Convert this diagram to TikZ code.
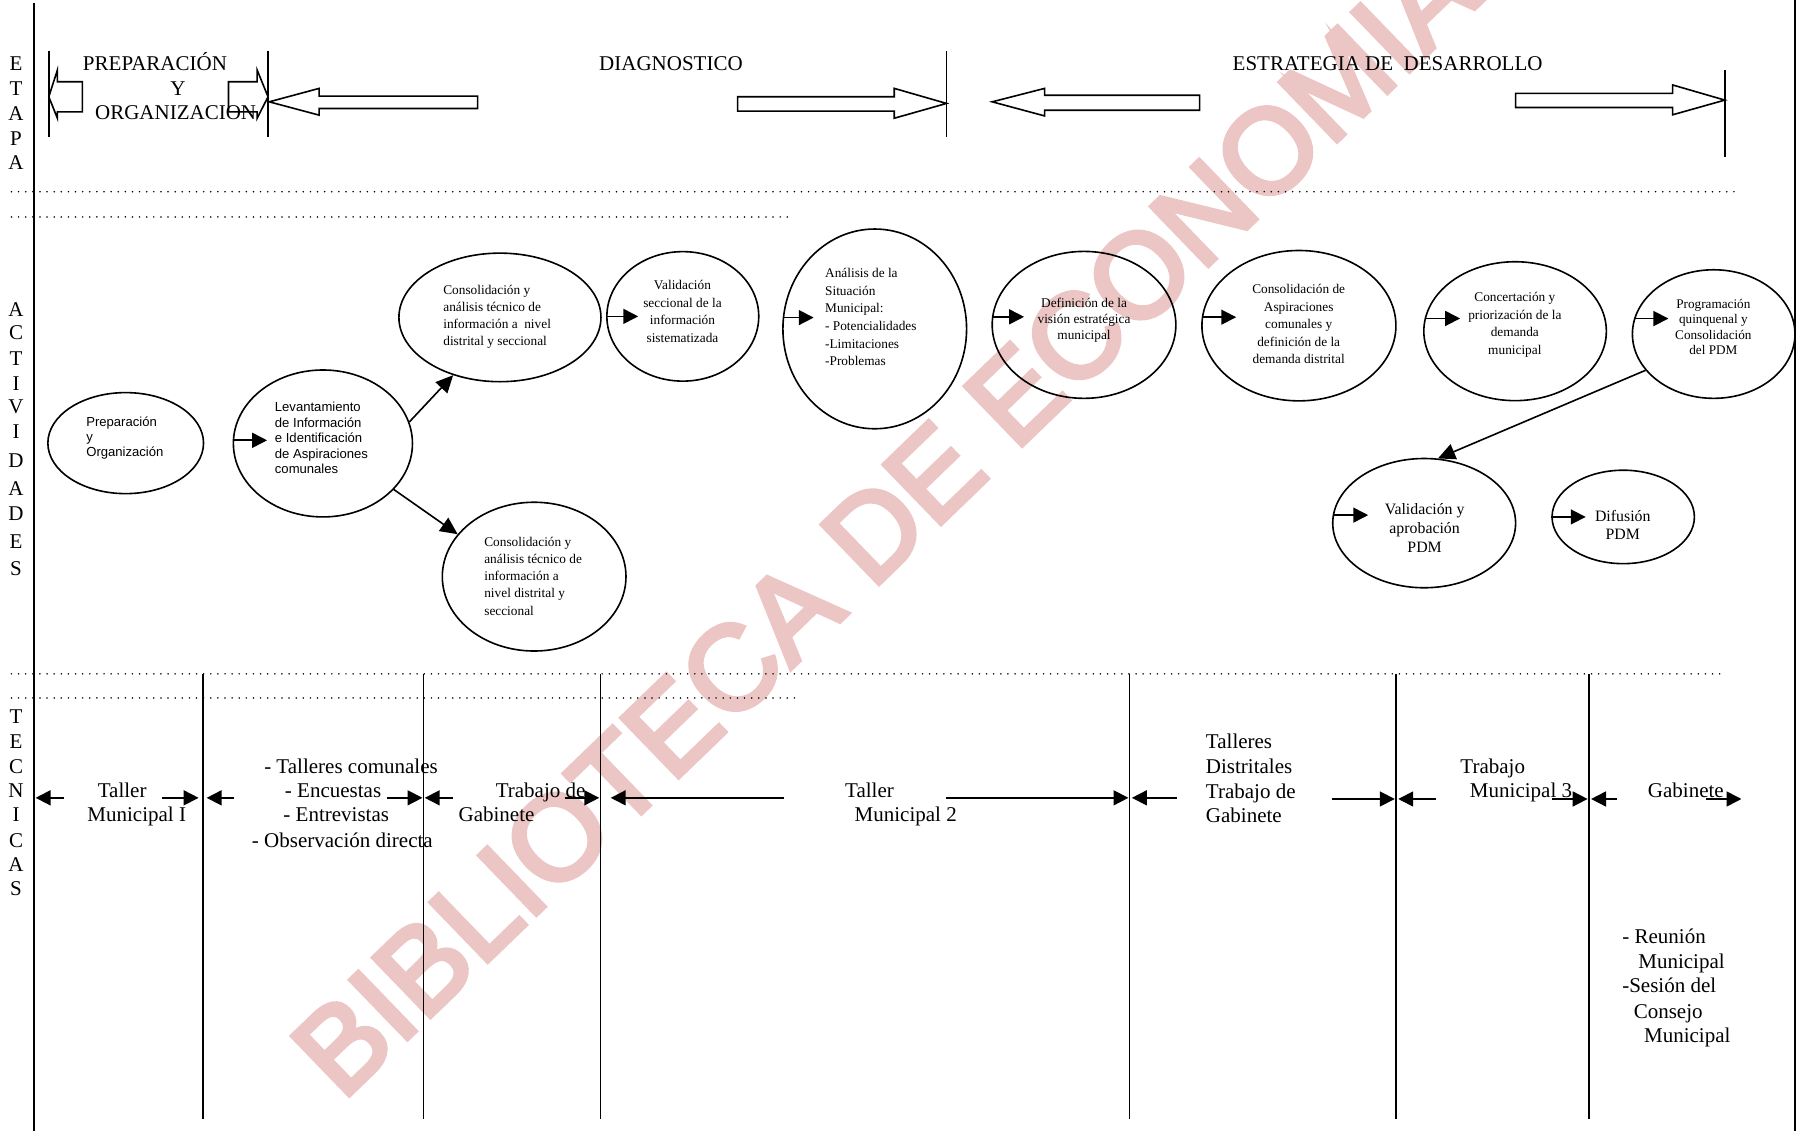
\documentclass[tikz,border=0pt]{standalone}
\usepackage{fontspec}
\setmainfont{Liberation Serif}
\newfontfamily\sansf{Liberation Sans}
\newfontfamily\wmf[FakeBold=4]{Liberation Sans}
\usetikzlibrary{shapes.geometric,arrows.meta}
\definecolor{wmpink}{RGB}{236,197,197}
\newcommand{\tl}[1]{\begin{tabular}[t]{@{}l@{}}#1\end{tabular}}
\newcommand{\tc}[1]{\begin{tabular}[t]{@{}c@{}}#1\end{tabular}}
\tikzset{
  mainline/.style={line width=1.7pt},
  barline/.style={line width=1.5pt},
  tline/.style={line width=1.3pt},
  dots/.style={line width=1.5pt, dash pattern=on 0pt off 6.2pt, line cap=round},
  blk/.style={draw, line width=1.4pt, line join=miter},
  ell/.style={draw, ellipse, line width=1.4pt, inner sep=0pt},
  inarr/.style={line width=1.5pt, -{Triangle[length=13pt,width=13pt]}},
  darr/.style={line width=1.4pt, -{Triangle[length=15pt,width=14pt]}},
  tarr/.style={line width=1.5pt, -{Triangle[length=13pt,width=13pt]}},
  big/.style={font=\fontsize{18.3}{21.5}\selectfont, inner sep=0pt},
  sml/.style={font=\fontsize{11.6}{15}\selectfont, inner sep=0pt},
  wm/.style={font=\wmf\fontsize{104}{104}\selectfont, text=wmpink, inner sep=0pt}
}
\begin{document}
\begin{tikzpicture}[x=1pt,y=-1pt]
\useasboundingbox (0,0) rectangle (1568,985);
% watermark
\node[wm, rotate=44, anchor=base west] (wmark) at (298,960) {BIBLIOTECA DE ECONOMIA};

% frame lines
\draw[mainline] (30,3) -- (30,985);
\draw[mainline] (1563.5,0) -- (1563.5,985);

% dotted separators
\draw[dots] (10,167) -- (1512,167);
\draw[dots] (10,189) -- (686,189);
\draw[dots] (10,587) -- (1503,587);
\draw[dots] (10,608) -- (694,608);

% side labels
\foreach \l/\y [count=\i] in {E/61,T/83,A/105,P/126.5,A/148}
  \node[big, anchor=base] (etapa\i) at (14,\y) {\l};
\foreach \l/\y [count=\i] in {A/276,C/296,T/318,I/340,V/360,I/382,D/407,A/431.5,D/453.5,E/478,S/501.5}
  \node[big, anchor=base] (activ\i) at (14,\y) {\l};
\foreach \l/\y [count=\i] in {T/630.5,E/652.3,C/673.5,N/695,I/716,C/738,A/759,S/780}
  \node[big, anchor=base] (tecn\i) at (14,\y) {\l};

% stage bars
\draw[barline] (42.5,44) -- (42.5,119);
\draw[barline] (233.5,44) -- (233.5,119);
\draw[barline] (824.5,44) -- (824.5,119);
\draw[barline] (1502.5,61) -- (1502.5,137);

% block arrows
\draw[blk] (42.5,84.3) -- (50,61) -- (50,71.2) -- (71.7,71.2) -- (71.7,97.4) -- (50,97.4) -- (50,103) -- cycle;
\draw[blk] (233.5,84.3) -- (224,61) -- (224,71.2) -- (199,71.2) -- (199,97.4) -- (224,97.4) -- (224,103) -- cycle;
\draw[blk] (234.5,88.7) -- (278,77) -- (278,83.7) -- (416,83.7) -- (416,94.5) -- (278,94.5) -- (278,100.3) -- cycle;
\draw[blk] (824.5,90.1) -- (779,77) -- (779,84.3) -- (642.6,84.3) -- (642.6,96.8) -- (779,96.8) -- (779,103) -- cycle;
\draw[blk] (864.3,88.7) -- (910,77) -- (910,83) -- (1045,83) -- (1045,96) -- (910,96) -- (910,101) -- cycle;
\draw[blk] (1502.5,87.2) -- (1457,74) -- (1457,81.4) -- (1320.3,81.4) -- (1320.3,93.6) -- (1457,93.6) -- (1457,100) -- cycle;

% stage titles
\node[big, anchor=base] (prep1) at (135,61) {PREPARACIÓN};
\node[big, anchor=base] (prep2) at (155,83) {Y};
\node[big, anchor=base] (prep3) at (153,104.5) {ORGANIZACION};
\node[big, anchor=base] (diag) at (584.5,61) {DIAGNOSTICO};
\node[big, anchor=base west] (estr) at (1073.6,61) {ESTRATEGIA DE\ \ DESARROLLO};

% activity ellipses
\node[ell, minimum width=135.6pt, minimum height=88pt] (eprep) at (109.5,386) {};
\node[ell, minimum width=156pt, minimum height=128pt] (elev) at (281.3,386.3) {};
\node[ell, minimum width=176pt, minimum height=112pt] (ecta) at (435.5,276.5) {};
\node[ell, minimum width=160pt, minimum height=129.6pt] (ectb) at (465.3,502.3) {};
\node[ell, minimum width=132.3pt, minimum height=112.8pt] (eval) at (594.8,275.6) {};
\node[ell, minimum width=160pt, minimum height=174pt] (eana) at (762,286.5) {};
\node[ell, minimum width=160pt, minimum height=128pt] (edef) at (944.3,283) {};
\node[ell, minimum width=169pt, minimum height=131pt] (easp) at (1131.5,283.7) {};
\node[ell, minimum width=159pt, minimum height=121pt] (econ) at (1319.8,288.5) {};
\node[ell, minimum width=141.6pt, minimum height=112pt] (eprog) at (1492.8,291) {};
\node[ell, minimum width=159.3pt, minimum height=112.6pt] (evap) at (1240.6,455.7) {};
\node[ell, minimum width=124pt, minimum height=81.4pt] (edif) at (1414,450.3) {};

% activity texts
\node[inner sep=0pt, anchor=base west, font=\sansf\fontsize{11.4}{13}\selectfont] (tprep) at (75,371.6)
  {\tl{Preparación\\y\\Organización}};
\node[inner sep=0pt, anchor=base west, font=\sansf\fontsize{11.4}{13.6}\selectfont] (tlev) at (239.3,358.5)
  {\tl{Levantamiento\\de Información\\e Identificación\\de Aspiraciones\\comunales}};
\node[sml, anchor=base west] (tcta) at (386,256.4)
  {\tl{Consolidación y\\análisis técnico de\\información a\ \ nivel\\distrital y seccional}};
\node[sml, anchor=base west] (tctb) at (421.7,475.8)
  {\tl{Consolidación y\\análisis técnico de\\información a\\nivel distrital y\\seccional}};
\node[sml, anchor=base, font=\fontsize{11.6}{15.5}\selectfont] (tval) at (594.5,252)
  {\tc{Validación\\seccional de la\\información\\sistematizada}};
\node[sml, anchor=base west, font=\fontsize{11.6}{15.4}\selectfont] (tana) at (718.6,241.8)
  {\tl{Análisis de la\\Situación\\Municipal:\\- Potencialidades\\-Limitaciones\\-Problemas}};
\node[sml, anchor=base, font=\fontsize{11.6}{13.8}\selectfont] (tdef) at (944.3,268)
  {\tc{Definición de la\\visión estratégica\\municipal}};
\node[sml, anchor=base, font=\fontsize{11.6}{15.3}\selectfont] (tasp) at (1131.3,255.8)
  {\tc{Consolidación de\\Aspiraciones\\comunales y\\definición de la\\demanda distrital}};
\node[sml, anchor=base, font=\fontsize{11.6}{15.3}\selectfont] (tcon) at (1319.6,262.8)
  {\tc{Concertación y\\priorización de la\\demanda\\municipal}};
\node[sml, anchor=base, font=\fontsize{11.5}{13.4}\selectfont] (tprog) at (1492.5,268.6)
  {\tc{Programación\\quinquenal y\\Consolidación\\del PDM}};
\node[inner sep=0pt, anchor=base, font=\fontsize{13.8}{16.3}\selectfont] (tvap) at (1241,448.5)
  {\tc{Validación y\\aprobación\\PDM}};
\node[inner sep=0pt, anchor=base, font=\fontsize{13.8}{16}\selectfont] (tdif) at (1413.6,454.3)
  {\tc{Difusión\\PDM}};

% short arrows entering ellipses
\draw[inarr] (elev.178) -- ++(30,0);
\draw[inarr] (eval.west) -- ++(28,0);
\draw[inarr] (eana.173.4) -- ++(27,0);
\draw[inarr] (edef.175.5) -- ++(28,0);
\draw[inarr] (easp.175.1) -- ++(30,0);
\draw[inarr] (econ.172.6) -- ++(31,0);
\draw[inarr] (eprog.169.4) -- ++(30,0);
\draw[inarr] (evap.175) -- ++(31,0);
\draw[inarr] (edif.west) -- ++(30,0);

% diagonal arrows
\draw[darr] (elev.14.8) -- (ecta.231.5);
\draw[darr] (elev.327.6) -- (ectb.151.3);
\draw[darr] (eprog.208.4) -- (evap.78.8);

% technique columns
\foreach \x [count=\i] in {177,369,523,984,1216,1384}
  \draw[tline] (\x,587) -- (\x,975);
\foreach \a/\b/\y in {56/31/695, 141/173/695, 204/180/695, 337/368/695, 395/370/695,
  492/522/695, 683/532/695, 824/983/695, 1025/986/695, 1160/1215/696, 1251/1218/696,
  1352/1383/696, 1409/1386/696, 1486/1517/696}
  \draw[tarr] (\a,\y) -- (\b,\y);

% technique texts
\node[big, anchor=base west] (t1a) at (85,695) {Taller};
\node[big, anchor=base west] (t1b) at (76,716) {Municipal I};
\node[big, anchor=base west] (t2a) at (230,673.4) {- Talleres comunales};
\node[big, anchor=base west] (t2b) at (248,695) {- Encuestas};
\node[big, anchor=base west] (t2c) at (246.7,716) {- Entrevistas};
\node[big, anchor=base west] (t2d) at (219.3,738) {- Observación directa};
\node[big, anchor=base west] (t3a) at (431.7,695) {Trabajo de};
\node[big, anchor=base west] (t3b) at (399.3,716) {Gabinete};
\node[big, anchor=base west] (t4a) at (736,694.4) {Taller};
\node[big, anchor=base west] (t4b) at (744.3,716) {Municipal 2};
\node[big, anchor=base west] (t5) at (1050.3,652.2) {\tl{Talleres\\Distritales\\Trabajo de\\Gabinete}};
\node[big, anchor=base west] (t6a) at (1272,673.4) {Trabajo};
\node[big, anchor=base west] (t6b) at (1280.3,695) {Municipal 3};
\node[big, anchor=base west] (t7) at (1435.3,695) {Gabinete};
\node[big, anchor=base west] (t8a) at (1413,822) {- Reunión};
\node[big, anchor=base west] (t8b) at (1427,844) {Municipal};
\node[big, anchor=base west] (t8c) at (1413,865) {-Sesión del};
\node[big, anchor=base west] (t8d) at (1423,887) {Consejo};
\node[big, anchor=base west] (t8e) at (1432,908) {Municipal};
\end{tikzpicture}
\end{document}
